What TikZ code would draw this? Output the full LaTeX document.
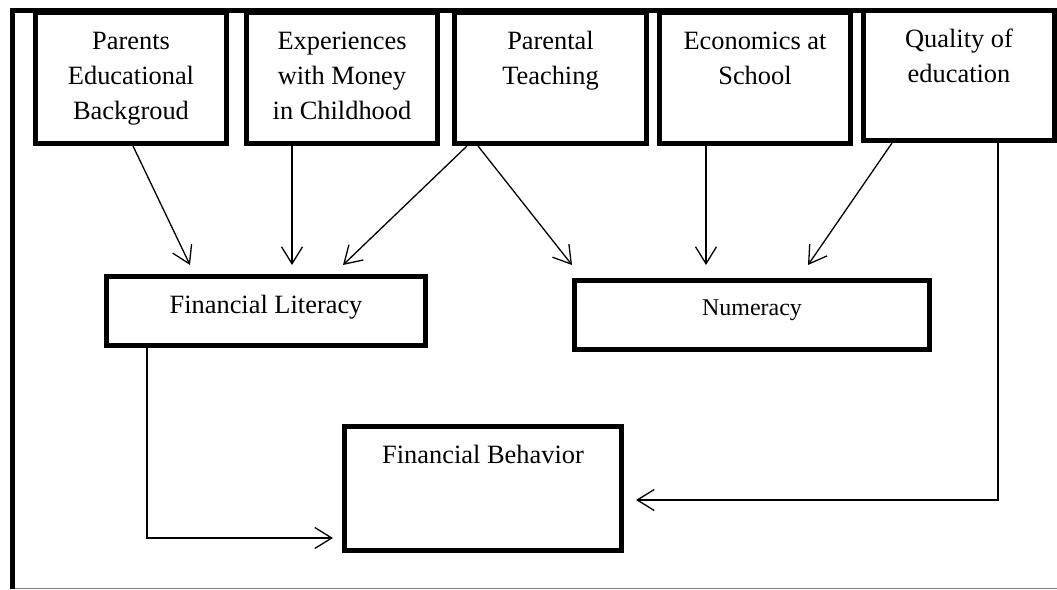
\documentclass[tikz,border=0pt]{standalone}
\usepackage{fontspec}
\setmainfont{Liberation Serif}
\usetikzlibrary{arrows.meta,calc}
\begin{document}
\begin{tikzpicture}[x=1pt,y=-1pt,
  box/.style={draw,line width=5pt,inner sep=0pt,fill=white},
  lbl/.style={inner sep=0pt,align=center,anchor=north,font=\fontsize{26.4}{35}\selectfont},
  conn/.style={line width=1.3pt,-{Straight Barb[length=17pt,width=21pt,line width=1.3pt]}}
]
\useasboundingbox (0,0) rectangle (1057,589);
% frame
\draw[line width=5pt] (12.5,589) -- (12.5,10.5) -- (1057,10.5);
\draw[line width=1pt,gray] (15,588) -- (1057,588);
% top boxes
\node[box,minimum width=191,minimum height=131] (b1) at (131,78) {};
\node[box,minimum width=191,minimum height=131] (b2) at (342,78) {};
\node[box,minimum width=192,minimum height=131] (b3) at (550.5,78) {};
\node[box,minimum width=191,minimum height=131] (b4) at (755,78) {};
\node[box,minimum width=191,minimum height=130] (b5) at (959,75.5) {};
% middle and bottom boxes
\node[box,minimum width=319,minimum height=69] (fl) at (266,311) {};
\node[box,minimum width=355,minimum height=69] (num) at (752,315) {};
\node[box,minimum width=277,minimum height=124] (fb) at (483,488.5) {};
% labels
\node[lbl] (t1) at ($(b1.north)+(0,14.5)$) {\strut Parents\\Educational\\Backgroud};
\node[lbl] (t2) at ($(b2.north)+(0,14.5)$) {\strut Experiences\\with Money\\in Childhood};
\node[lbl] (t3) at ($(b3.north)+(0,14.5)$) {\strut Parental\\Teaching};
\node[lbl] (t4) at ($(b4.north)+(0,14.5)$) {\strut Economics at\\School};
\node[lbl] (t5) at ($(b5.north)+(0,14.5)$) {\strut Quality of\\education};
\node[lbl] (t6) at ($(fl.north)+(0,14.5)$) {\strut Financial Literacy};
\node[lbl,font=\fontsize{24}{35}\selectfont] (t7) at ($(num.north)+(0,12.5)$) {\strut Numeracy};
\node[lbl] (t8) at ($(fb.north)+(0,14.5)$) {\strut Financial Behavior};
% connectors
\draw[conn] ($(b1.south)+(2,0)$) -- ($(fl.north west)+(86,-9)$);
\draw[conn] ($(b2.south)+(-50,0)$) -- ($(fl.north west)+(188,-9)$);
\draw[conn] ($(b3.south)+(-83.5,0)$) -- ($(fl.north west)+(239,-9)$);
\draw[conn] ($(b3.south)+(-72.5,0)$) -- ($(num.north west)+(0,-13)$);
\draw[conn] ($(b4.south)+(-49,0)$) -- ($(num.north west)+(134,-13)$);
\draw[conn] ($(b5.south)+(-67,0)$) -- ($(num.north west)+(236,-13)$);
\draw[conn] ($(b5.south)+(39,0)$) |- ($(fb.north east)+(12,76)$);
\draw[conn] ($(fl.south west)+(43,0)$) |- ($(fb.south west)+(-9,-15)$);
\end{tikzpicture}
\end{document}
